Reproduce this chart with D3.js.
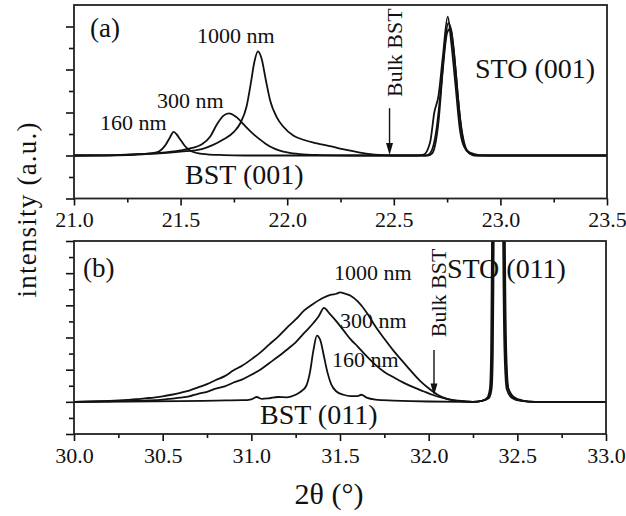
<!DOCTYPE html>
<html>
<head>
<meta charset="utf-8">
<script src="https://cdn.jsdelivr.net/npm/d3@7"></script>
<style>
  body { margin: 0; background: #fff; }
  svg, svg text { font-family: "Liberation Serif", "Times New Roman", serif; }
</style>
</head>
<body>
<svg id="chart" width="626" height="516"></svg>
<script>
// (a) BST (001) region, 2theta in degrees, intensity in a.u.
const topTicks = [21.0, 21.5, 22.0, 22.5, 23.0, 23.5];
const top160 = [[21.0,0],[21.2,0.005],[21.3,0.02],[21.36,0.05],[21.4,0.1],[21.43,0.25],[21.45,0.42],[21.467,0.55],[21.48,0.5],[21.5,0.36],[21.52,0.22],[21.55,0.1],[21.6,0.04],[21.7,0.01],[21.8,0],[22.6,0],
  [22.66,0],[22.68,0.05],[22.71,0.8],[22.73,2.0],[22.75,2.85],[22.765,2.95],[22.78,2.5],[22.8,1.4],[22.82,0.5],[22.84,0.12],[22.87,0.02],[22.9,0],[23.5,0]];
const top300 = [[21.0,0],[21.2,0.01],[21.3,0.03],[21.4,0.06],[21.5,0.12],[21.55,0.17],[21.6,0.26],[21.64,0.45],[21.67,0.72],[21.7,0.92],[21.727,0.98],[21.76,0.9],[21.8,0.7],[21.83,0.55],[21.87,0.38],[21.9,0.27],[21.94,0.16],[22.0,0.07],[22.06,0.03],[22.15,0.01],[22.3,0],
  [22.65,0],[22.67,0.05],[22.7,0.6],[22.72,1.5],[22.74,2.6],[22.755,3.08],[22.77,2.9],[22.79,2.0],[22.81,0.9],[22.83,0.3],[22.85,0.08],[22.88,0],[23.5,0]];
const top1000 = [[21.0,0],[21.2,0.01],[21.3,0.03],[21.4,0.05],[21.5,0.09],[21.6,0.15],[21.65,0.24],[21.7,0.37],[21.75,0.55],[21.78,0.75],[21.81,1.15],[21.83,1.7],[21.845,2.15],[21.863,2.42],[21.88,2.25],[21.9,1.75],[21.92,1.28],[21.95,0.9],[21.98,0.68],[22.03,0.46],[22.08,0.36],[22.14,0.28],[22.2,0.22],[22.26,0.15],[22.32,0.09],[22.38,0.04],[22.45,0.01],[22.5,0],
  [22.6,0],[22.64,0.02],[22.67,0.3],[22.69,1.0],[22.71,1.4],[22.73,2.3],[22.753,3.23],[22.77,2.6],[22.79,1.6],[22.81,0.6],[22.83,0.2],[22.86,0.06],[22.9,0.01],[22.95,0],[23.5,0]];

// (b) BST (011) region
const bottomTicks = [30.0, 30.5, 31.0, 31.5, 32.0, 32.5, 33.0];
const bot160 = [[30.0,0],[30.3,0.01],[30.6,0.02],[30.8,0.04],[30.95,0.05],[31.0,0.08],[31.03,0.15],[31.06,0.09],[31.1,0.11],[31.15,0.15],[31.2,0.14],[31.25,0.22],[31.28,0.32],[31.31,0.5],[31.33,0.9],[31.35,1.6],[31.37,2.06],[31.39,1.9],[31.41,1.4],[31.43,0.9],[31.45,0.55],[31.48,0.32],[31.52,0.22],[31.56,0.18],[31.6,0.18],[31.62,0.22],[31.65,0.13],[31.7,0.07],[31.8,0.04],[31.9,0.02],[32.0,0.01],[32.2,0],
  [32.25,0],[32.3,0.03],[32.334,0.12],[32.349,0.4],[32.356,1.5],[32.361,5],[32.369,10],[32.394,16],[32.419,10],[32.425,5],[32.434,1.5],[32.447,0.45],[32.48,0.15],[32.53,0.04],[32.6,0],[33.0,0]];
const bot300 = [[30.0,0],[30.2,0.01],[30.3,0.02],[30.4,0.04],[30.5,0.07],[30.55,0.1],[30.6,0.13],[30.65,0.17],[30.7,0.25],[30.75,0.31],[30.8,0.41],[30.85,0.48],[30.9,0.6],[30.95,0.7],[31.0,0.84],[31.05,1.0],[31.1,1.2],[31.15,1.4],[31.2,1.62],[31.25,1.85],[31.3,2.15],[31.35,2.45],[31.38,2.66],[31.41,2.92],[31.44,2.75],[31.48,2.5],[31.52,2.22],[31.56,1.94],[31.6,1.72],[31.65,1.42],[31.7,1.15],[31.75,0.93],[31.8,0.77],[31.86,0.59],[31.92,0.44],[31.97,0.33],[32.02,0.22],[32.08,0.12],[32.12,0.07],[32.2,0.02],[32.25,0],
  [32.3,0.03],[32.34,0.12],[32.355,0.4],[32.362,1.5],[32.367,5],[32.375,10],[32.4,16],[32.425,10],[32.43,5],[32.438,1.5],[32.45,0.4],[32.48,0.12],[32.53,0.03],[32.6,0],[33.0,0]];
const bot1000 = [[30.0,0],[30.1,0.01],[30.2,0.03],[30.3,0.06],[30.35,0.08],[30.4,0.11],[30.45,0.13],[30.5,0.17],[30.55,0.22],[30.6,0.28],[30.65,0.35],[30.7,0.45],[30.75,0.55],[30.8,0.68],[30.85,0.8],[30.9,0.98],[30.95,1.13],[31.0,1.32],[31.05,1.53],[31.1,1.78],[31.15,2.02],[31.2,2.3],[31.25,2.56],[31.3,2.85],[31.35,3.05],[31.4,3.22],[31.45,3.33],[31.48,3.36],[31.5,3.4],[31.53,3.36],[31.56,3.3],[31.6,3.12],[31.65,2.78],[31.7,2.34],[31.75,1.96],[31.8,1.6],[31.85,1.28],[31.9,0.96],[31.95,0.66],[32.0,0.42],[32.05,0.22],[32.1,0.1],[32.15,0.04],[32.2,0.01],[32.25,0],
  [32.3,0.03],[32.33,0.12],[32.345,0.4],[32.352,1.5],[32.357,5],[32.365,10],[32.39,16],[32.415,10],[32.42,5],[32.428,1.5],[32.44,0.4],[32.47,0.12],[32.52,0.03],[32.6,0],[33.0,0]];

const svg = d3.select("#chart");
const font = 22;

function drawPanel(cfg) {
  const x = d3.scaleLinear().domain(cfg.xDomain).range(cfg.xRange);
  const y = d3.scaleLinear().domain(cfg.yDomain).range(cfg.yRange);
  const g = svg.append("g");

  g.append("clipPath").attr("id", cfg.id)
    .append("rect")
    .attr("x", cfg.xRange[0]).attr("y", cfg.yRange[1])
    .attr("width", cfg.xRange[1] - cfg.xRange[0])
    .attr("height", cfg.yRange[0] - cfg.yRange[1]);

  // minor ticks first, then major with labels
  const xMinor = cfg.ticks.slice(0, -1).map((d) => d + 0.25);
  g.append("g")
    .attr("transform", `translate(0,${cfg.yRange[0]})`)
    .call(d3.axisBottom(x).tickValues(xMinor).tickSize(4).tickFormat(""));
  g.append("g")
    .attr("class", "xaxis")
    .attr("transform", `translate(0,${cfg.yRange[0]})`)
    .call(d3.axisBottom(x).tickValues(cfg.ticks).tickSize(7).tickPadding(6)
      .tickFormat(d3.format(".1f")))
    .attr("font-family", null)
    .attr("font-size", font)
    .call((a) => a.selectAll("text").attr("fill", "#111"));

  const yMajor = d3.range(cfg.yDomain[0], cfg.yDomain[1] + 0.01, 1);
  const yMinor = yMajor.map((d) => d + 0.5).filter((d) => d < cfg.yDomain[1]);
  g.append("g")
    .attr("transform", `translate(${cfg.xRange[0]},0)`)
    .call(d3.axisLeft(y).tickValues(yMinor).tickSize(5).tickFormat(""));
  g.append("g")
    .attr("transform", `translate(${cfg.xRange[0]},0)`)
    .call(d3.axisLeft(y).tickValues(yMajor).tickSize(8).tickFormat(""));

  g.selectAll(".domain").remove();
  g.selectAll(".tick line").attr("stroke", "#111").attr("stroke-width", 1.6);

  const line = d3.line()
    .x((d) => x(d[0]))
    .y((d) => y(d[1]))
    .curve(d3.curveMonotoneX);

  g.append("g").attr("clip-path", `url(#${cfg.id})`)
    .selectAll("path")
    .data(cfg.series)
    .join("path")
    .attr("d", line)
    .attr("fill", "none")
    .attr("stroke", "#111")
    .attr("stroke-width", 1.8)
    .attr("stroke-linejoin", "round");

  g.append("rect")
    .attr("x", cfg.xRange[0]).attr("y", cfg.yRange[1])
    .attr("width", cfg.xRange[1] - cfg.xRange[0])
    .attr("height", cfg.yRange[0] - cfg.yRange[1])
    .attr("fill", "none").attr("stroke", "#222").attr("stroke-width", 1.8);

  cfg.labels.forEach(([t, lx, ly, size]) => {
    g.append("text")
      .attr("x", x(lx)).attr("y", y(ly))
      .attr("font-size", size).attr("fill", "#111")
      .text(t);
  });

  // "Bulk BST" marker: vertical text and arrow
  const [bx, top, tip, tx, ty] = cfg.bulk;
  g.append("text")
    .attr("transform", `translate(${x(tx)},${y(ty)}) rotate(-90)`)
    .attr("font-size", font).attr("fill", "#111")
    .text("Bulk BST");
  g.append("line")
    .attr("x1", x(bx)).attr("x2", x(bx))
    .attr("y1", y(top)).attr("y2", y(tip) - 10)
    .attr("stroke", "#111").attr("stroke-width", 1.4);
  g.append("path")
    .attr("d", `M${x(bx) - 3.5},${y(tip) - 12}L${x(bx) + 3.5},${y(tip) - 12}L${x(bx)},${y(tip)}Z`)
    .attr("fill", "#111");
}

drawPanel({
  id: "clipA",
  xDomain: [21, 23.5], xRange: [74, 607],
  yDomain: [-1, 3.5], yRange: [198.5, 5],
  ticks: topTicks,
  series: [top160, top300, top1000],
  labels: [
    ["(a)", 21.075, 2.76, 27],
    ["1000 nm", 21.577, 2.62, font],
    ["300 nm", 21.389, 1.1, font],
    ["160 nm", 21.122, 0.59, font],
    ["BST (001)", 21.521, -0.66, 28],
    ["STO (001)", 22.881, 1.8, 28]
  ],
  bulk: [22.48, 1.1, 0.01, 22.538, 1.36]
});

drawPanel({
  id: "clipB",
  xDomain: [30, 33], xRange: [74, 606],
  yDomain: [-1, 5], yRange: [434, 241],
  ticks: bottomTicks,
  series: [bot160, bot300, bot1000],
  labels: [
    ["(b)", 30.051, 3.88, 27],
    ["1000 nm", 31.466, 3.79, font],
    ["300 nm", 31.5, 2.29, font],
    ["160 nm", 31.455, 1.09, font],
    ["BST (011)", 31.049, -0.69, 28],
    ["STO (011)", 32.103, 3.85, 28]
  ],
  bulk: [32.03, 1.61, 0.2, 32.098, 2.01]
});

// axis titles
svg.append("text")
  .attr("transform", "translate(36,210) rotate(-90)")
  .attr("text-anchor", "middle")
  .attr("font-size", 27).attr("fill", "#111")
  .attr("textLength", 175).attr("lengthAdjust", "spacing")
  .text("intensity (a.u.)");

svg.append("text")
  .attr("x", 329).attr("y", 504)
  .attr("text-anchor", "middle")
  .attr("font-size", 30).attr("fill", "#111")
  .text("2θ (°)");
</script>
</body>
</html>
